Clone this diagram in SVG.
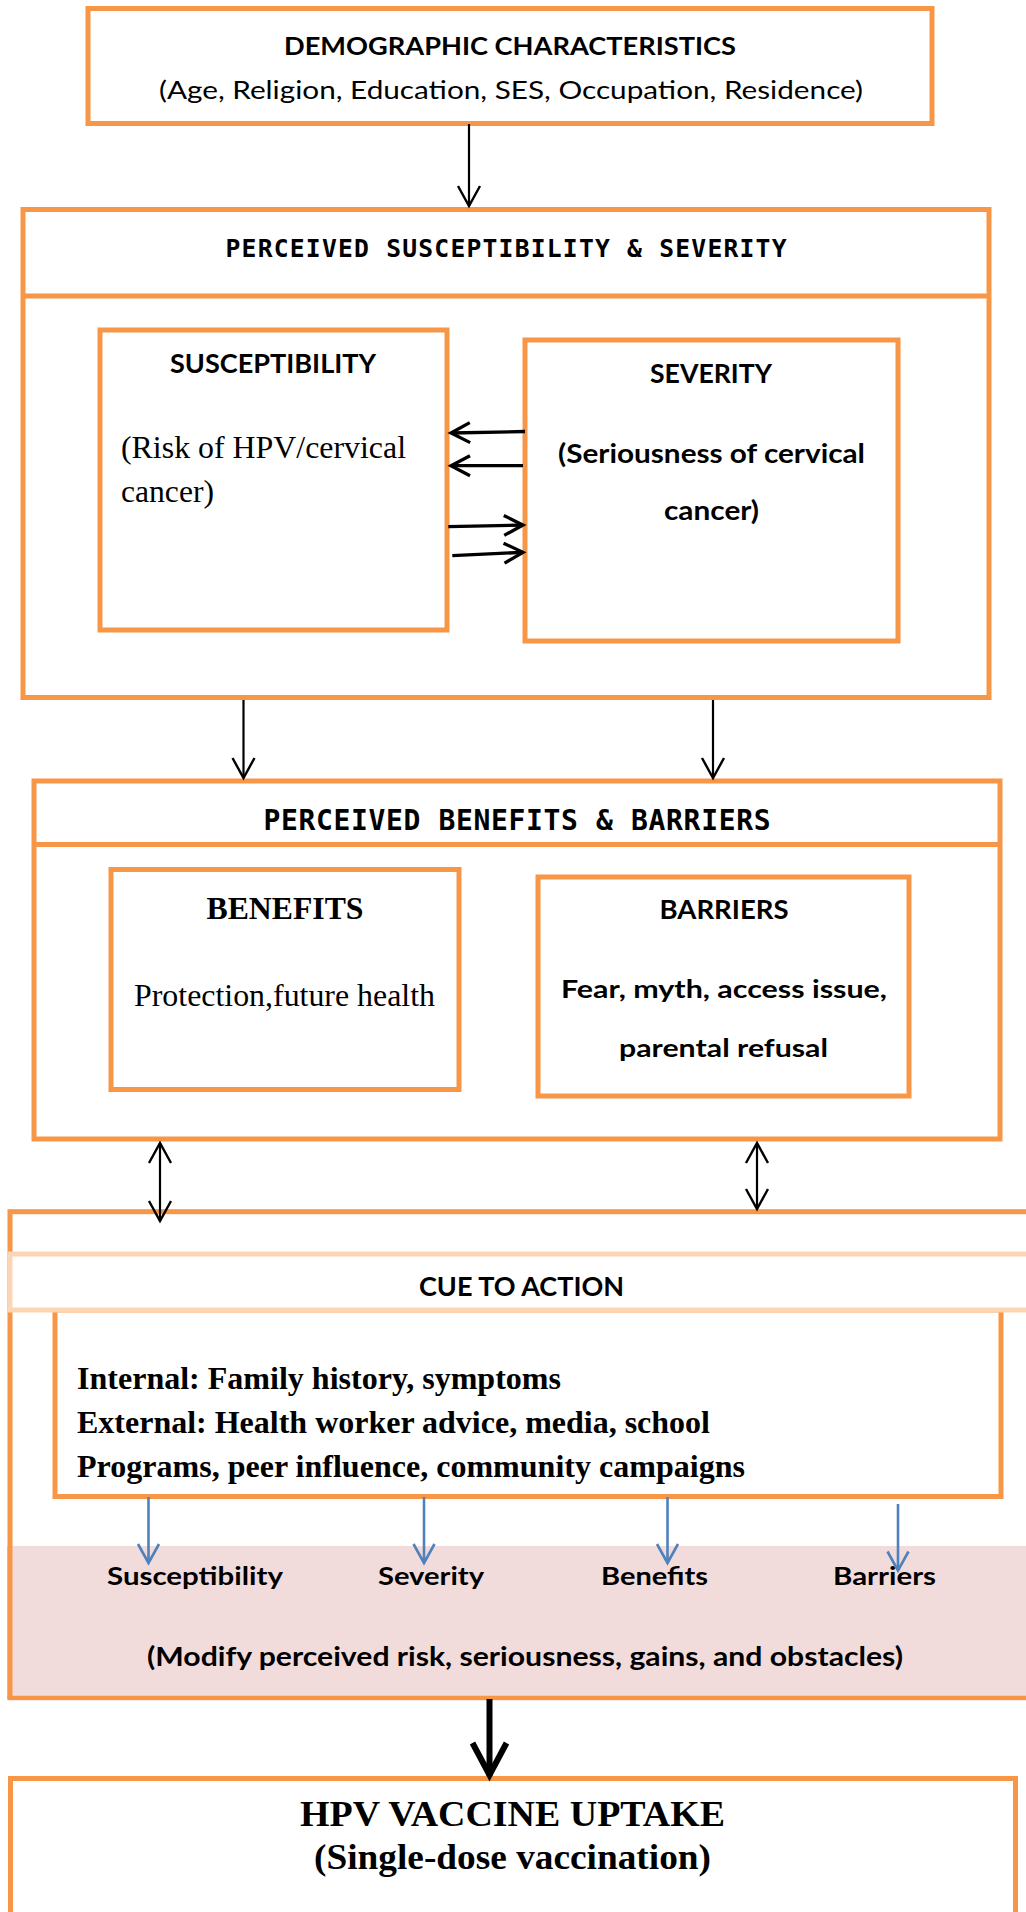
<svg xmlns="http://www.w3.org/2000/svg" width="1026" height="1912" viewBox="0 0 1026 1912">
<style>
.box{fill:#ffffff;stroke:#F79646;stroke-width:5}
.ln{fill:none;stroke:#F79646;stroke-width:5}
.cal{font-family:Lato,"Open Sans","Liberation Sans",sans-serif;font-weight:bold;fill:#000}
.calr{font-family:Lato,"Open Sans","Liberation Sans",sans-serif;font-weight:normal;fill:#000}
.mono{font-family:"DejaVu Sans Mono","Liberation Mono",monospace;font-weight:bold;fill:#000}
.tnr{font-family:"Liberation Serif","Times New Roman",serif;fill:#000}
.tnrb{font-family:"Liberation Serif","Times New Roman",serif;font-weight:bold;fill:#000}
.blk{fill:none;stroke:#000;stroke-width:2.2}
.blk3{fill:none;stroke:#000;stroke-width:3.3}
.blue{fill:none;stroke:#4F81BD;stroke-width:2.6}
.thick{fill:none;stroke:#000;stroke-width:6}
</style>
<defs>
<marker id="ah" markerUnits="userSpaceOnUse" orient="auto-start-reverse" overflow="visible" refX="0" refY="0" markerWidth="30" markerHeight="30">
<path d="M-20,-11 L0,0 L-20,11" fill="none" stroke="#000" stroke-width="2.4"/>
</marker>
<marker id="ah3" markerUnits="userSpaceOnUse" orient="auto" overflow="visible" refX="0" refY="0" markerWidth="30" markerHeight="30">
<path d="M-19,-10 L0,0 L-19,10" fill="none" stroke="#000" stroke-width="3.3"/>
</marker>
<marker id="ahb" markerUnits="userSpaceOnUse" orient="auto" overflow="visible" refX="0" refY="0" markerWidth="30" markerHeight="30">
<path d="M-19,-10.5 L0,0 L-19,10.5" fill="none" stroke="#4F81BD" stroke-width="2.6"/>
</marker>
<marker id="aht" markerUnits="userSpaceOnUse" orient="auto" overflow="visible" refX="0" refY="0" markerWidth="50" markerHeight="50">
<path d="M-33,-17 L-1,0 L-33,17" fill="none" stroke="#000" stroke-width="6"/>
</marker>
</defs>

<g id="demographics">
<rect class="box" x="88" y="8.5" width="844" height="115"/>
<text class="cal" x="510" y="55" font-size="25.5" text-anchor="middle" textLength="452" lengthAdjust="spacingAndGlyphs">DEMOGRAPHIC CHARACTERISTICS</text>
<text class="calr" x="511" y="99" font-size="24.5" text-anchor="middle" textLength="704" lengthAdjust="spacingAndGlyphs">(Age, Religion, Education, SES, Occupation, Residence)</text>
</g>

<g id="perceived-susceptibility-severity">
<rect class="box" x="23" y="209.5" width="966" height="488"/>
<line class="ln" x1="23" y1="296" x2="989" y2="296"/>
<text class="mono" x="506" y="257" font-size="24.7" text-anchor="middle" textLength="561" lengthAdjust="spacing">PERCEIVED SUSCEPTIBILITY &amp; SEVERITY</text>
</g>

<g id="susceptibility">
<rect class="box" x="100" y="330" width="347" height="300"/>
<text class="cal" x="273" y="373" font-size="26.5" text-anchor="middle" textLength="206" lengthAdjust="spacingAndGlyphs">SUSCEPTIBILITY</text>
<text class="tnr" x="121" y="458" font-size="31" textLength="285" lengthAdjust="spacingAndGlyphs">(Risk of HPV/cervical</text>
<text class="tnr" x="121" y="502" font-size="31" textLength="93" lengthAdjust="spacingAndGlyphs">cancer)</text>
</g>

<g id="severity">
<rect class="box" x="525" y="340" width="373" height="301"/>
<text class="cal" x="711" y="383" font-size="26.5" text-anchor="middle" textLength="122" lengthAdjust="spacingAndGlyphs">SEVERITY</text>
<text class="cal" x="711.5" y="463" font-size="26.5" text-anchor="middle" textLength="307" lengthAdjust="spacingAndGlyphs">(Seriousness of cervical</text>
<text class="cal" x="711.5" y="520" font-size="26.5" text-anchor="middle" textLength="95" lengthAdjust="spacingAndGlyphs">cancer)</text>
</g>

<g id="perceived-benefits-barriers">
<rect class="box" x="34" y="781" width="966" height="358"/>
<line class="ln" x1="34" y1="844.5" x2="1000" y2="844.5"/>
<text class="mono" x="517" y="830" font-size="28" text-anchor="middle" textLength="507" lengthAdjust="spacing">PERCEIVED BENEFITS &amp; BARRIERS</text>
</g>

<g id="benefits">
<rect class="box" x="111" y="869.5" width="348" height="220"/>
<text class="tnrb" x="285" y="919" font-size="32" text-anchor="middle" textLength="157" lengthAdjust="spacingAndGlyphs">BENEFITS</text>
<text class="tnr" x="284.5" y="1006" font-size="32" text-anchor="middle" textLength="301" lengthAdjust="spacingAndGlyphs">Protection,future health</text>
</g>

<g id="barriers">
<rect class="box" x="538" y="877" width="371" height="219"/>
<text class="cal" x="724" y="919" font-size="26.5" text-anchor="middle" textLength="129" lengthAdjust="spacingAndGlyphs">BARRIERS</text>
<text class="cal" x="724" y="998" font-size="25.5" text-anchor="middle" textLength="326" lengthAdjust="spacingAndGlyphs">Fear, myth, access issue,</text>
<text class="cal" x="723.5" y="1057" font-size="25.5" text-anchor="middle" textLength="209" lengthAdjust="spacingAndGlyphs">parental refusal</text>
</g>

<g id="cue-to-action">
<rect x="10" y="1211.7" width="1030" height="486" fill="#ffffff" stroke="#F79646" stroke-width="5"/>
<rect x="10" y="1546" width="1030" height="151.5" fill="#F2DCDB"/>
<line x1="10" y1="1546" x2="10" y2="1697.5" stroke="#F79646" stroke-width="5"/>
<line x1="7.5" y1="1697.5" x2="1026" y2="1697.5" stroke="#F79646" stroke-width="3.5"/>
<rect class="box" x="55" y="1310" width="946" height="186.5"/>
<rect x="10" y="1254" width="1030" height="56" fill="#ffffff" stroke="#FCD5B4" stroke-width="5"/>
<text class="cal" x="521.5" y="1296" font-size="26.5" text-anchor="middle" textLength="205" lengthAdjust="spacingAndGlyphs">CUE TO ACTION</text>
<text class="tnrb" x="77" y="1389" font-size="32" textLength="484" lengthAdjust="spacingAndGlyphs">Internal: Family history, symptoms</text>
<text class="tnrb" x="77" y="1433" font-size="32" textLength="633" lengthAdjust="spacingAndGlyphs">External: Health worker advice, media, school</text>
<text class="tnrb" x="77" y="1477" font-size="32" textLength="668" lengthAdjust="spacingAndGlyphs">Programs, peer influence, community campaigns</text>
<text class="cal" x="195" y="1585" font-size="25.5" text-anchor="middle" textLength="176" lengthAdjust="spacingAndGlyphs">Susceptibility</text>
<text class="cal" x="431" y="1585" font-size="25.5" text-anchor="middle" textLength="106" lengthAdjust="spacingAndGlyphs">Severity</text>
<text class="cal" x="654.5" y="1585" font-size="25.5" text-anchor="middle" textLength="107" lengthAdjust="spacingAndGlyphs">Benefits</text>
<text class="cal" x="884.5" y="1585" font-size="25.5" text-anchor="middle" textLength="103" lengthAdjust="spacingAndGlyphs">Barriers</text>
<text class="cal" x="525" y="1666" font-size="26.5" text-anchor="middle" textLength="756" lengthAdjust="spacingAndGlyphs">(Modify perceived risk, seriousness, gains, and obstacles)</text>
</g>

<g id="hpv-vaccine-uptake">
<rect class="box" x="10.5" y="1778.5" width="1005" height="200"/>
<text class="tnrb" x="512.5" y="1826" font-size="36.5" text-anchor="middle" textLength="425" lengthAdjust="spacingAndGlyphs">HPV VACCINE UPTAKE</text>
<text class="tnrb" x="512.5" y="1869" font-size="36.5" text-anchor="middle" textLength="397" lengthAdjust="spacingAndGlyphs">(Single-dose vaccination)</text>
</g>

<g id="connectors">
<line class="blk" x1="469" y1="124" x2="469" y2="206" marker-end="url(#ah)"/>
<line class="blk3" x1="525" y1="431.5" x2="451" y2="433" marker-end="url(#ah3)"/>
<line class="blk3" x1="523" y1="465.7" x2="451" y2="465.7" marker-end="url(#ah3)"/>
<line class="blk3" x1="448.3" y1="526.7" x2="523" y2="525" marker-end="url(#ah3)"/>
<line class="blk3" x1="452.3" y1="555.7" x2="523" y2="552.3" marker-end="url(#ah3)"/>
<line class="blk" x1="243.5" y1="700" x2="243.5" y2="778" marker-end="url(#ah)"/>
<line class="blk" x1="713" y1="700" x2="713" y2="778" marker-end="url(#ah)"/>
<line class="blk" x1="160" y1="1143" x2="160" y2="1221" marker-start="url(#ah)" marker-end="url(#ah)"/>
<line class="blk" x1="757" y1="1143" x2="757" y2="1209" marker-start="url(#ah)" marker-end="url(#ah)"/>
<line class="blue" x1="148.5" y1="1497" x2="148.5" y2="1563" marker-end="url(#ahb)"/>
<line class="blue" x1="424" y1="1497" x2="424" y2="1563" marker-end="url(#ahb)"/>
<line class="blue" x1="667.5" y1="1497" x2="667.5" y2="1563" marker-end="url(#ahb)"/>
<line class="blue" x1="898" y1="1504" x2="898" y2="1570.5" marker-end="url(#ahb)"/>
<line class="thick" x1="489.5" y1="1699" x2="489.5" y2="1776" marker-end="url(#aht)"/>
</g>
</svg>
